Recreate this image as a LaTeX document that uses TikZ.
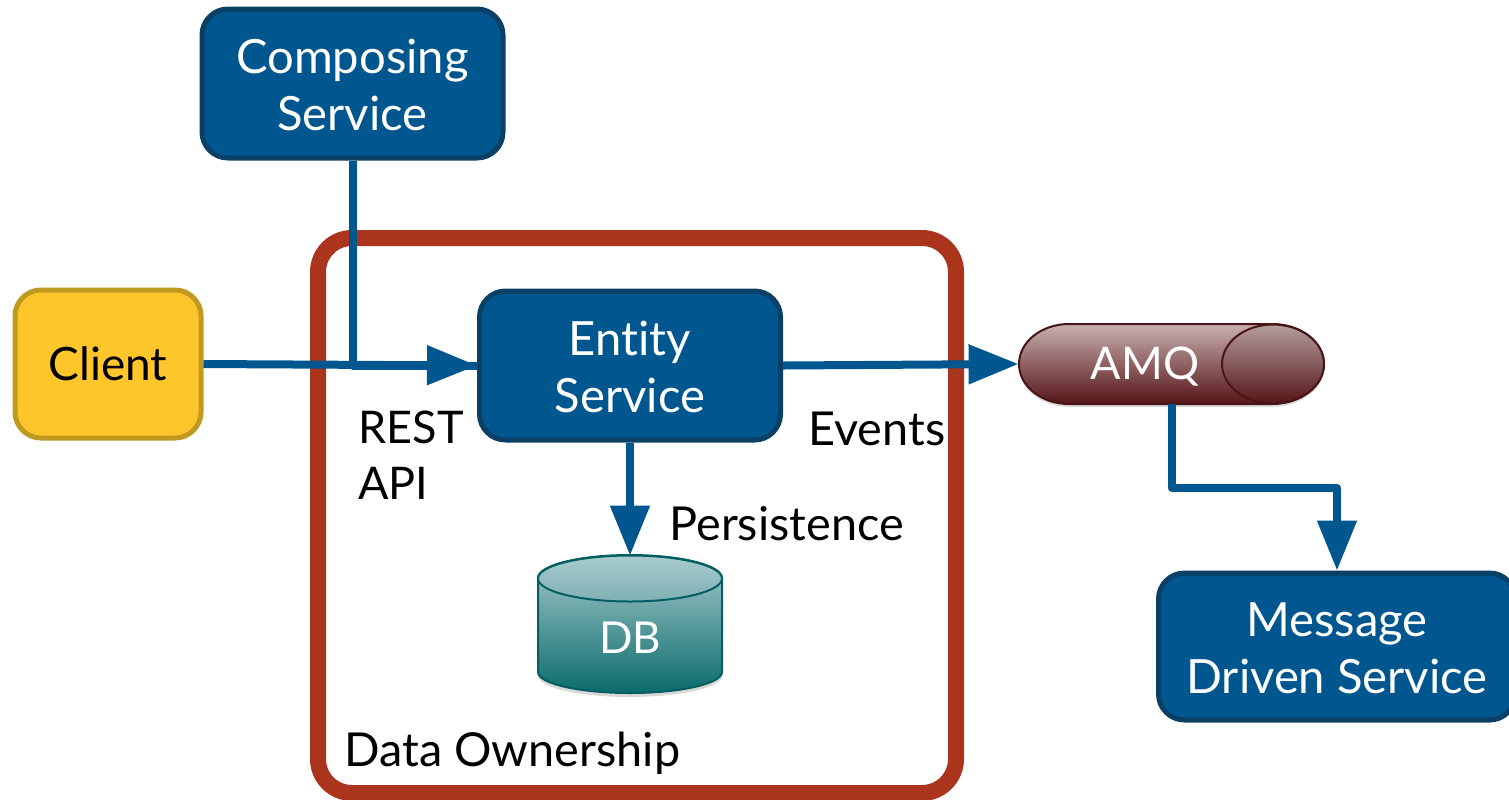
\documentclass[tikz,border=0pt]{standalone}
\usepackage{fontspec}
\setmainfont[Ligatures=NoCommon]{Lato}
\usetikzlibrary{arrows.meta,calc}
\definecolor{svcblue}{HTML}{00568F}
\definecolor{svcedge}{HTML}{0A3F66}
\definecolor{clientfill}{HTML}{FFC62B}
\definecolor{clientedge}{HTML}{C09A20}
\definecolor{ownred}{HTML}{AB341C}
\definecolor{tealedge}{HTML}{055F62}
\definecolor{tealtop}{HTML}{A9CBCE}
\definecolor{tealmid}{HTML}{7FB0B3}
\definecolor{tealbot}{HTML}{0A6B6C}
\definecolor{amqedge}{HTML}{4A1518}
\definecolor{amqtop}{HTML}{C8B0B0}
\definecolor{amqbot}{HTML}{561417}
\newcommand{\twolines}[2]{\begin{tabular}{@{}c@{}}\rule{0pt}{27.2pt}#1\\#2\end{tabular}}
\tikzset{
  softshade/.style={preaction={draw=black,draw opacity=.14,fill opacity=.14,transform canvas={xshift=.8pt,yshift=-1pt}}},
  svcbox/.style={draw=svcedge,fill=svcblue,line width=2.5pt,rounded corners=13pt,text=white,
    font=\fontsize{23.6}{28.8}\selectfont,inner sep=0pt,minimum width=150.5pt,minimum height=74.5pt},
  clientbox/.style={svcbox,draw=clientedge,fill=clientfill,text=black,minimum width=93pt,minimum height=74pt,
    font=\fontsize{23}{28.5}\selectfont},
  flow/.style={draw=svcblue,line width=4pt,line join=round,-{Triangle[length=25pt,width=19pt,fill=svcblue]}},
  plainflow/.style={draw=svcblue,line width=4pt,line join=round},
  tag/.style={anchor=base west,inner sep=0pt,font=\fontsize{23.4}{28.5}\selectfont,text=black},
  shorttag/.style={tag,font=\fontsize{22.5}{28.5}\selectfont},
  whitetag/.style={inner sep=0pt,text=white,font=\fontsize{22.5}{28.5}\selectfont},
}
\begin{document}
\begin{tikzpicture}[x=0.5pt,y=-0.5pt]
\clip (0,0) rectangle (1509,799);
% ownership frame
\draw[ownred,line width=8pt,rounded corners=17pt] (318,238) rectangle (956,793);
% DB cylinder
\path[fill=black,fill opacity=.15,transform canvas={yshift=-2pt}]
  (538,578) arc[x radius=92,y radius=23,start angle=180,end angle=360] -- (722,672)
  arc[x radius=92,y radius=21,start angle=0,end angle=180] -- cycle;
\draw[draw=tealedge,line width=1pt,top color=tealtop,bottom color=tealbot]
  (538,578) arc[x radius=92,y radius=23,start angle=180,end angle=360] -- (722,672)
  arc[x radius=92,y radius=21,start angle=0,end angle=180] -- cycle;
\draw[draw=tealedge,line width=1pt,top color=tealtop,bottom color=tealmid]
  (630,578.5) ellipse[x radius=92,y radius=23];
\node[minimum width=92pt,minimum height=68.5pt,inner sep=0pt] (db) at (630,624.5) {};
\node[whitetag,font=\fontsize{22}{28}\selectfont] (dblabel) at (630,638) {DB};
% AMQ capsule
\path[fill=black,fill opacity=.14,transform canvas={yshift=-1.5pt}]
  (1069,324) -- (1272,324) arc[x radius=52,y radius=40,start angle=-90,end angle=90] -- (1069,404)
  arc[x radius=50,y radius=40,start angle=90,end angle=270] -- cycle;
\draw[draw=amqedge,line width=1pt,top color=amqtop,bottom color=amqbot]
  (1069,324) -- (1272,324) arc[x radius=52,y radius=40,start angle=-90,end angle=90] -- (1069,404)
  arc[x radius=50,y radius=40,start angle=90,end angle=270] -- cycle;
\draw[draw=amqedge,line width=1pt,top color=amqtop!90!black,bottom color=amqbot]
  (1273,364) ellipse[x radius=51,y radius=39.5];
\node[minimum width=152.5pt,minimum height=40pt,inner sep=0pt] (amq) at (1171.5,364) {};
\node[whitetag] (amqlabel) at (1145,367) {AMQ};
% service boxes
\node[svcbox] (compose) at (352.5,83.5) {\twolines{Composing}{Service}};
\node[svcbox] (entity) at (630,365.5) {\twolines{Entity}{Service}};
\node[svcbox,minimum width=178.5pt,minimum height=73.5pt] (message) at (1337,646.5) {\twolines{Message}{Driven Service}};
\node[clientbox] (client) at (108,364) {Client};
% connectors
\coordinate (bendA) at (amq.south |- 0,488);
\coordinate (bendB) at (message.north |- 0,488);
\draw[plainflow,softshade] (compose.south) |- (entity.west);
\draw[flow,softshade] (client.east) -- (entity.west);
\draw[flow,softshade] (entity.east) -- (amq.west);
\draw[flow,softshade] (entity.south) -- (db.north);
\draw[flow,softshade] (amq.south) -- (bendA) -- (bendB) -- (message.north);
% labels
\node[shorttag] (rest) at (358,443) {REST};
\node[shorttag] (api) at (358,499) {API};
\node[tag] (events) at (808,445) {Events};
\node[tag] (persist) at (669,540) {Persistence};
\node[tag] (owner) at (344,766) {Data Ownership};
\end{tikzpicture}
\end{document}
